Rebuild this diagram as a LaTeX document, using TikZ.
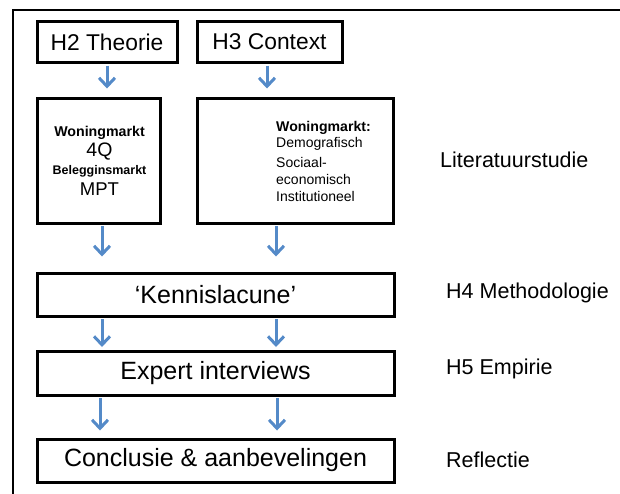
\documentclass[tikz,border=0pt]{standalone}
\usepackage{fontspec}
\setmainfont{Liberation Sans}
\usetikzlibrary{arrows.meta}
\definecolor{flowblue}{RGB}{84,138,200}
\newcommand{\fs}[1]{\fontsize{#1}{#1}\selectfont}
\begin{document}
\begin{tikzpicture}[x=1pt,y=-1pt,
  box/.style={draw=black,line width=3pt,inner sep=0pt,anchor=center},
  flow/.style={draw=flowblue,line width=3pt,
    -{Straight Barb[length=8.5pt,width=16pt,line width=3pt]}},
  lbl/.style={anchor=west,inner sep=0pt,font=\fs{21.5}},
  small/.style={inner sep=0pt,font=\fs{14}}]
\useasboundingbox (0,0) rectangle (620,493);
\clip (0,0) rectangle (620,493);
% outer frame, running off the page to the right and bottom
\draw[line width=2.8pt] (13,510) -- (13,10) -- (640,10);

% chapter boxes
\node[box,minimum width=140pt,minimum height=41pt,font=\fs{22.8}] (h2) at (107,42) {H2 Theorie};
\node[box,minimum width=145pt,minimum height=41pt,font=\fs{22.8}] (h3) at (269.5,42) {H3 Context};

% literature boxes
\node[box,minimum width=123pt,minimum height=125pt] (lit1) at (98.5,160.5) {};
\node[box,minimum width=196pt,minimum height=125pt] (lit2) at (295,160.5) {};

\node[small,font=\bfseries\fs{14.2}] (t1a) at (99.5,133) {Woningmarkt};
\node[small,font=\fs{19.5}] (t1b) at (99.5,152) {4Q};
\node[small,font=\bfseries\fs{12.5}] (t1c) at (99.5,171) {Belegginsmarkt};
\node[small,font=\fs{18.5}] (t1d) at (99.5,189) {MPT};

\node[small,anchor=west,font=\bfseries\fs{14.1}] (t2a) at (276,128) {Woningmarkt:};
\node[small,anchor=west] (t2b) at (276,144) {Demografisch};
\node[small,anchor=west] (t2c) at (276,162) {Sociaal-};
\node[small,anchor=west] (t2d) at (276,179) {economisch};
\node[small,anchor=west] (t2e) at (276,196) {Institutioneel};

% main process boxes
\node[box,minimum width=357pt,minimum height=43pt,font=\fs{25}] (gap) at (215.5,294.5) {‘Kennislacune’};
\node[box,minimum width=357pt,minimum height=44pt,font=\fs{25}] (exp) at (215.5,373) {Expert interviews};
\node[box,minimum width=357pt,minimum height=43pt,font=\fs{25}] (concl) at (215.5,460.5) {Conclusie \& aanbevelingen};

% phase labels
\node[lbl] (l1) at (440,160) {Literatuurstudie};
\node[lbl] (l2) at (446,293) {H4 Methodologie};
\node[lbl] (l3) at (446,369) {H5 Empirie};
\node[lbl] (l4) at (446,460) {Reflectie};

% arrows
\draw[flow,shorten <=1.5pt,shorten >=8pt] (h2.south) -- (h2.south |- lit1.north);
\draw[flow,shorten <=1.5pt,shorten >=8pt] ([xshift=-2.5pt]h3.south) -- ([xshift=-2.5pt]h3.south |- lit2.north);
\draw[flow,shorten <=1.5pt,shorten >=15pt] ([xshift=3.5pt]lit1.south) -- ([xshift=3.5pt]lit1.south |- gap.north);
\draw[flow,shorten <=1.5pt,shorten >=15pt] ([xshift=-19pt]lit2.south) -- ([xshift=-19pt]lit2.south |- gap.north);
\draw[flow,shorten <=1.5pt,shorten >=2.5pt] ([xshift=-113.5pt]gap.south) -- ([xshift=-113.5pt]gap.south |- exp.north);
\draw[flow,shorten <=1.5pt,shorten >=2.5pt] ([xshift=60.5pt]gap.south) -- ([xshift=60.5pt]gap.south |- exp.north);
\draw[flow,shorten <=1.5pt,shorten >=7pt] ([xshift=-115.5pt]exp.south) -- ([xshift=-115.5pt]exp.south |- concl.north);
\draw[flow,shorten <=1.5pt,shorten >=7pt] ([xshift=61.5pt]exp.south) -- ([xshift=61.5pt]exp.south |- concl.north);
\end{tikzpicture}
\end{document}
